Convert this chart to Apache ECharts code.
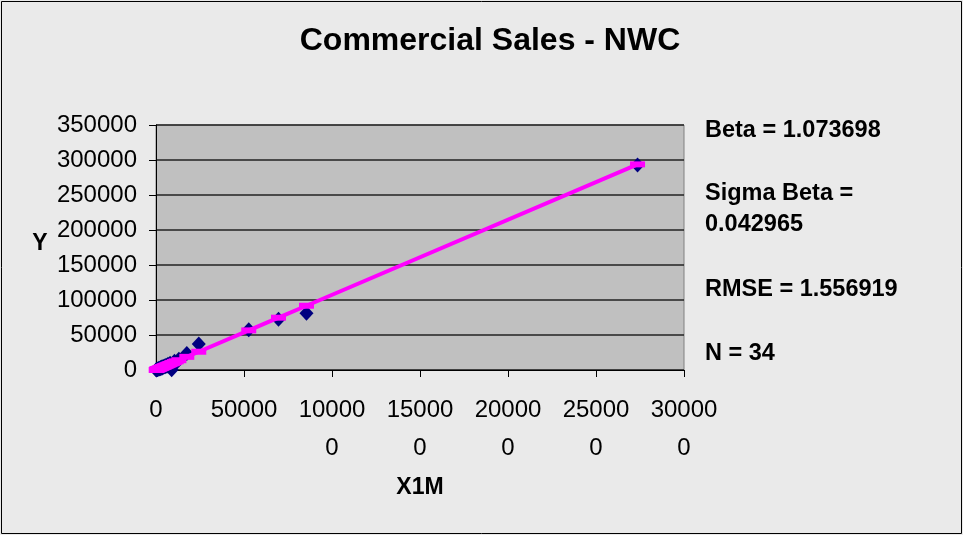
<!DOCTYPE html>
<html>
<head>
<meta charset="utf-8">
<script src="https://cdn.jsdelivr.net/npm/echarts@6/dist/echarts.min.js"></script>
<style>
  html, body { margin: 0; padding: 0; background: #EAEAEA; }
  #chart { width: 963px; height: 535px; }
</style>
</head>
<body>
<div id="chart"></div>
<script>
// observed points (X1M, Y)
var xVals = [100, 300, 500, 800, 1000, 1200, 1500, 1800, 2100, 2400, 2700, 3000, 3300, 3600,
  4000, 4400, 4800, 5200, 5700, 6200, 6800, 7400, 8000, 8900, 9500, 10500, 11500, 13000,
  17500, 24300, 52700, 69600, 85500, 273600];
var yVals = [200, 150, 800, 600, 1300, 900, 2100, 1500, 2600, 1800, 3400, 2500, 4200, 3000,
  4900, 3800, 5600, 4500, 6800, 5200, 8100, 6000, 9500, 500, 9000, 12500, 10500, 15500,
  23500, 37000, 57500, 72500, 81000, 293000];
// fitted values
var fitVals = [107, 322, 537, 859, 1074, 1288, 1611, 1933, 2255, 2577, 2899, 3221, 3543, 3865,
  4295, 4724, 5154, 5583, 6120, 6657, 7301, 7945, 8590, 9556, 10200, 11274, 12348, 13958,
  18790, 26091, 56584, 74729, 91801, 293764];
var statLines = ['Beta = 1.073698', 'Sigma Beta =', '0.042965', 'RMSE = 1.556919', 'N = 34'];
var statY = [131, 194, 225, 290, 354];

var FONT = 'Liberation Sans, Arial, sans-serif';

var chartDom = document.getElementById('chart');
var myChart = echarts.init(chartDom);

var scatterData = xVals.map(function (x, i) { return [x, yVals[i]]; });
var fitData = xVals.map(function (x, i) { return [x, fitVals[i]]; });

var graphics = [
  {
    type: 'rect',
    shape: { x: 1.5, y: 1.5, width: 960, height: 532 },
    style: { fill: 'none', stroke: '#000', lineWidth: 1 },
    silent: true
  },
  {
    type: 'text', x: 490, y: 41,
    style: { text: 'Commercial Sales - NWC', font: 'bold 32px ' + FONT, fill: '#000', align: 'center', verticalAlign: 'middle' }
  },
  {
    type: 'text', x: 40, y: 244,
    style: { text: 'Y', font: 'bold 23px ' + FONT, fill: '#000', align: 'center', verticalAlign: 'middle' }
  },
  {
    type: 'text', x: 420, y: 488,
    style: { text: 'X1M', font: 'bold 23px ' + FONT, fill: '#000', align: 'center', verticalAlign: 'middle' }
  }
];
statLines.forEach(function (t, i) {
  graphics.push({
    type: 'text', x: 705, y: statY[i],
    style: { text: t, font: 'bold 23.5px ' + FONT, fill: '#000', align: 'left', verticalAlign: 'middle' }
  });
});

var option = {
  animation: false,
  backgroundColor: '#EAEAEA',
  grid: {
    left: 156, right: 279, top: 125, bottom: 165,
    show: true,
    backgroundColor: '#C0C0C0',
    borderColor: '#808080',
    borderWidth: 1
  },
  xAxis: {
    type: 'value',
    min: 0, max: 300000, interval: 50000,
    axisLine: { onZero: false, lineStyle: { color: '#000', width: 1 } },
    axisTick: { show: true, inside: false, length: 7, lineStyle: { color: '#000' } },
    splitLine: { show: false },
    axisLabel: {
      color: '#000', fontSize: 24, fontFamily: FONT, margin: 21, lineHeight: 38,
      formatter: function (v) {
        var s = String(v);
        return s.length > 5 ? s.slice(0, 5) + '\n' + s.slice(5) : s;
      }
    }
  },
  yAxis: {
    type: 'value',
    min: 0, max: 350000, interval: 50000,
    axisLine: { show: true, onZero: false, lineStyle: { color: '#000', width: 1 } },
    axisTick: { show: true, inside: false, length: 7, lineStyle: { color: '#000' } },
    splitLine: { show: true, lineStyle: { color: '#222', width: 1.5 } },
    axisLabel: {
      color: '#000', fontSize: 24, fontFamily: FONT, margin: 19,
      formatter: function (v) { return String(v); }
    }
  },
  series: [
    {
      name: 'Y',
      type: 'scatter',
      data: scatterData,
      symbol: 'diamond',
      symbolSize: [14, 15],
      itemStyle: { color: '#000080', opacity: 1 }
    },
    {
      name: 'Predicted Y',
      type: 'line',
      data: fitData,
      showAllSymbol: true,
      symbol: 'rect',
      symbolSize: [15, 6],
      lineStyle: { color: '#FF00FF', width: 4 },
      itemStyle: { color: '#FF00FF', opacity: 1 }
    }
  ],
  graphic: graphics
};

option && myChart.setOption(option);
new ResizeObserver(() => myChart.resize()).observe(chartDom);
</script>
</body>
</html>
